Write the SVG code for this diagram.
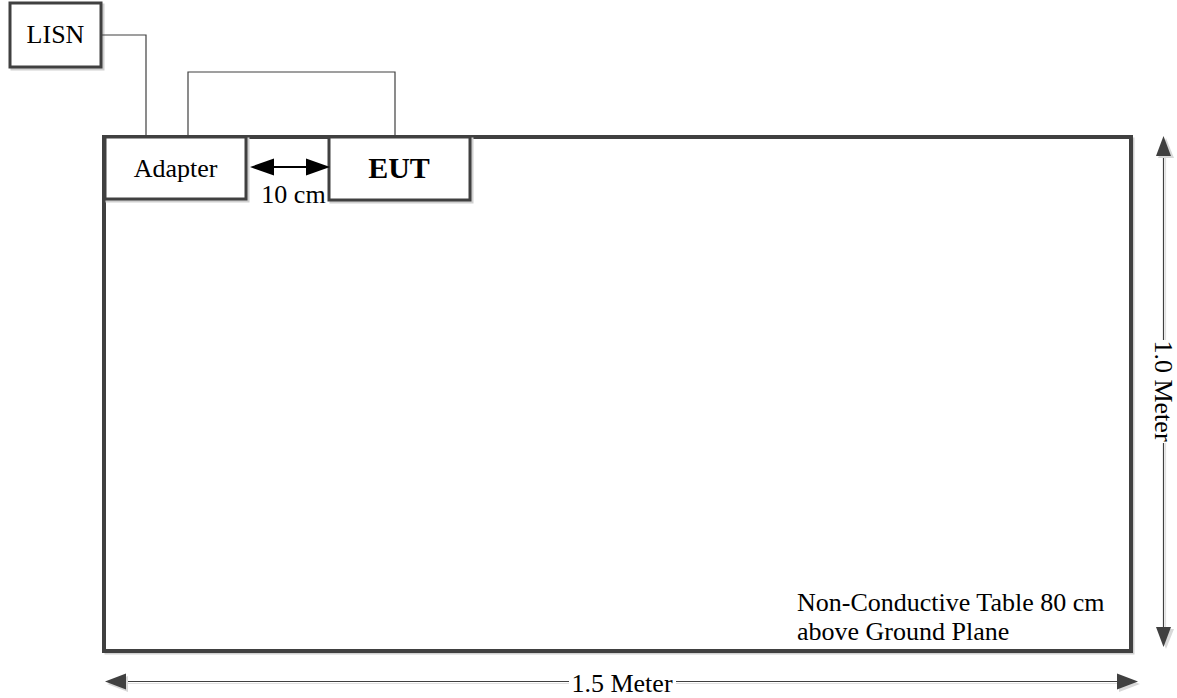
<svg xmlns="http://www.w3.org/2000/svg" width="1177" height="698" viewBox="0 0 1177 698">
<style>
  .box { fill: #ffffff; stroke: #404040; stroke-width: 3; }
  .shadow { fill: none; stroke: #d0d0d0; stroke-width: 3; }
  .table { fill: #ffffff; stroke: #404040; stroke-width: 4; }
  .wire { fill: none; stroke: #404040; stroke-width: 1.2; }
  .dim { fill: none; stroke: #404040; stroke-width: 1.2; }
  .dimsh { fill: none; stroke: #e0e0e0; stroke-width: 1.2; }
  .head { fill: #404040; }
  .headsh { fill: #d8d8d8; }
  .txt { font-family: "Liberation Serif", "Times New Roman", serif; font-size: 26px; fill: #000000; }
  .bold { font-weight: bold; font-size: 30px; }
</style>
<rect width="1177" height="698" fill="#ffffff"/>

<g id="table">
  <rect class="shadow" x="106" y="139" width="1027" height="514"/>
  <rect class="table" x="104" y="137" width="1027" height="514"/>
  <text class="txt" x="797" y="611">Non-Conductive Table 80 cm</text>
  <text class="txt" x="797" y="640">above Ground Plane</text>
</g>

<g id="lisn">
  <rect class="shadow" x="12" y="5" width="91" height="64"/>
  <rect class="box" x="10" y="3" width="91" height="64"/>
  <text class="txt" x="55.5" y="43" text-anchor="middle">LISN</text>
</g>

<g id="adapter">
  <rect class="shadow" x="107" y="139" width="141" height="62"/>
  <rect class="box" x="105" y="137" width="141" height="62"/>
  <text class="txt" x="175.5" y="177" text-anchor="middle">Adapter</text>
</g>

<g id="eut">
  <rect class="shadow" x="331" y="139" width="141" height="63"/>
  <rect class="box" x="329" y="137" width="141" height="63"/>
  <text class="txt bold" x="399" y="178" text-anchor="middle">EUT</text>
</g>

<g id="connectors">
  <polyline class="wire" points="101,35 146,35 146,137"/>
  <polyline class="wire" points="188,137 188,72 395,72 395,137"/>

  <!-- 10 cm double arrow -->
  <line x1="270" y1="167" x2="310" y2="167" stroke="#000" stroke-width="2"/>
  <polygon points="250,167 274,158.5 274,175.5" fill="#000"/>
  <polygon points="330,167 306,158.5 306,175.5" fill="#000"/>
  <text class="txt" x="293.5" y="203" text-anchor="middle">10 cm</text>

  <!-- 1.5 Meter horizontal dimension -->
  <line class="dimsh" x1="126" y1="683.5" x2="569" y2="683.5"/>
  <line class="dimsh" x1="676" y1="683.5" x2="1118" y2="683.5"/>
  <line class="dim" x1="124" y1="681.5" x2="569" y2="681.5"/>
  <line class="dim" x1="676" y1="681.5" x2="1118" y2="681.5"/>
  <polygon class="headsh" points="107,684 128,676 128,692"/>
  <polygon class="headsh" points="1140,684 1119,676 1119,692"/>
  <polygon class="head" points="105,681.5 126,673.5 126,689.5"/>
  <polygon class="head" points="1138,681.5 1117,673.5 1117,689.5"/>
  <text class="txt" x="622" y="692" text-anchor="middle">1.5 Meter</text>

  <!-- 1.0 Meter vertical dimension -->
  <line class="dimsh" x1="1165.5" y1="157" x2="1165.5" y2="340"/>
  <line class="dimsh" x1="1165.5" y1="443" x2="1165.5" y2="628"/>
  <line class="dim" x1="1163.5" y1="155" x2="1163.5" y2="340"/>
  <line class="dim" x1="1163.5" y1="443" x2="1163.5" y2="628"/>
  <polygon class="headsh" points="1166,138 1158,158 1174,158"/>
  <polygon class="headsh" points="1166,649 1158,629 1174,629"/>
  <polygon class="head" points="1163.5,136 1156,156 1171,156"/>
  <polygon class="head" points="1163.5,647 1156,627 1171,627"/>
  <text class="txt" transform="translate(1155,391) rotate(90)" text-anchor="middle">1.0 Meter</text>
</g>
</svg>
